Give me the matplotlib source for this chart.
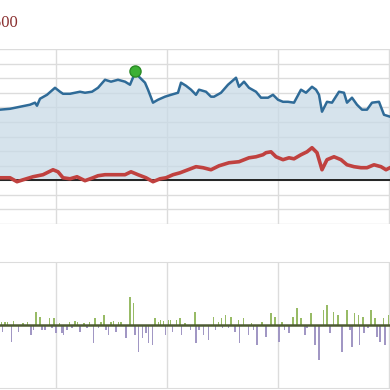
import matplotlib
matplotlib.use("Agg")
import matplotlib.pyplot as plt
import numpy as np

# --- data (x in chart units, gridlines every 111) ---
year_ticks = [56, 167, 278, 389]

blue_x = [0, 10, 20, 30, 35, 37, 40, 47, 55, 60, 63, 70, 80, 85, 92, 98,
          105, 111, 118, 125, 130, 135, 140, 145, 148, 153, 158, 165, 171,
          178, 181, 186, 191, 196, 199, 206, 211, 214, 221, 228, 236, 239,
          244, 249, 256, 261, 268, 273, 278, 283, 288, 294, 301, 306, 312,
          316, 319, 322, 327, 332, 339, 344, 347, 352, 357, 362, 367, 372,
          379, 384, 390]
blue_y = [48.4, 49.0, 50.4, 51.8, 53.2, 51.1, 55.9, 58.6, 63.4, 60.7, 59.3,
          59.3, 60.7, 60.0, 60.7, 63.4, 68.9, 67.6, 68.9, 67.6, 65.5, 73.7,
          70.3, 66.9, 62.1, 53.2, 55.2, 57.3, 58.6, 60.0, 66.9, 64.8, 62.1,
          58.6, 62.1, 60.7, 57.3, 57.3, 60.0, 65.5, 70.3, 64.1, 67.6, 63.4,
          60.7, 56.6, 56.6, 58.6, 55.2, 53.8, 53.8, 53.2, 62.1, 60.0, 64.1,
          62.1, 58.6, 47.0, 53.8, 53.2, 60.7, 60.0, 53.2, 56.6, 51.8, 48.4,
          48.4, 53.2, 53.8, 44.9, 43.6]

red_x = [0, 10, 17, 23, 33, 43, 53, 58, 63, 70, 77, 85, 93, 98, 105, 115,
         125, 131, 138, 146, 153, 160, 166, 173, 180, 188, 196, 203, 211,
         219, 229, 239, 249, 256, 263, 266, 271, 276, 283, 289, 294, 301,
         307, 312, 317, 322, 327, 334, 341, 347, 354, 361, 367, 374, 381,
         386, 390]
red_y = [1.7, 1.7, -1.0, 0.3, 2.4, 3.8, 7.2, 5.8, 1.7, 1.0, 2.4, -0.3, 1.7,
         3.1, 3.8, 3.8, 3.8, 5.8, 3.8, 1.7, -1.0, 1.0, 1.7, 3.8, 5.1, 7.2,
         9.3, 8.6, 7.2, 9.9, 12.0, 12.7, 15.4, 16.1, 17.5, 18.9, 19.5, 16.1,
         14.1, 15.4, 14.7, 17.5, 19.5, 22.3, 18.9, 7.2, 14.1, 16.1, 14.1,
         10.6, 9.3, 8.6, 8.6, 10.6, 9.3, 7.2, 8.6]

bar_x = [1.5, 2.5, 5, 7.3, 11.7, 13.3, 18.3, 22.7, 27.3, 31, 33.3, 36, 40,
         41.7, 45, 49.3, 51.7, 54, 56, 59.3, 61.7, 63.3, 66.7, 69.3, 71.7,
         75, 77.3, 80, 84, 86.7, 89.3, 93.3, 95, 98.3, 100.7, 104, 106,
         108.3, 110.7, 113.3, 116, 118.3, 120.7, 126, 130, 133.3, 135,
         138.3, 142.7, 146, 148.3, 152.3, 155, 158.3, 160.7, 163.3, 165.7,
         168.3, 170.7, 172.7, 176.7, 180, 181.7, 185, 190.7, 195, 196, 199,
         203.3, 208.3, 213.3, 215.7, 218.3, 221.7, 222.5, 225.7, 228.3, 231,
         235, 238.5, 239.5, 243.3, 248.3, 251.7, 253.3, 256.7, 261.7, 266,
         271, 275, 279, 281.7, 284.3, 289, 292.7, 296.7, 301, 305, 306.7,
         311, 315, 319, 323.3, 326.7, 330, 333.3, 337.7, 341.7, 346.7, 350,
         351.7, 354.3, 358.3, 359.3, 362.8, 363.8, 367.7, 371, 375, 376.7,
         380, 383.3, 385, 388.3]
bar_v = [3, -7, 3, 3, -17, 4, -7, 2, 3, -10, -5, 13, 8, -5, -5, 7, -3, 7,
         -8, 2, -8, -10, -5, 3, -3, 4, 3, -7, 2, -3, 3, -18, 7, -3, 3, 10,
         -5, -10, 3, 4, -7, 3, 3, -13, 28, 22, -10, -27, -13, -8, -18, -20,
         7, 3, 5, 4, -10, 5, 5, -7, 5, 7, -10, 2, -5, 13, -18, -5, -10, -15,
         8, -5, 3, 7, -3, 10, -3, 8, -7, 5, -18, 7, -10, 2, -5, -20, 3, -12,
         12, 8, -17, 3, -5, -8, 8, 17, 7, -10, -3, 12, -20, -35, 15, 20, -8,
         13, 10, -27, 15, -5, -22, 12, 10, -20, 8, -8, -3, 15, 7, -12, -17,
         7, -20, 10]

grid_col = "#dcdcdc"

fig = plt.figure(figsize=(3.9, 3.9), dpi=100)

# top panel
ax = fig.add_axes([0, 166 / 390, 1, 175 / 390])
ax.set_xlim(0, 390)
ax.set_ylim(-30, 90)
ax.set_yticks(np.arange(-30, 91, 10))
ax.set_xticks(year_ticks)
ax.grid(True, color=grid_col, linewidth=1)
ax.set_axisbelow(True)
ax.tick_params(length=0, labelleft=False, labelbottom=False)
for s in ax.spines.values():
    s.set_visible(False)

ax.fill_between(blue_x, blue_y, 0, color="#c9dae6", alpha=0.75, linewidth=0)
ax.axhline(0, color="#222222", linewidth=1.4)
ax.plot(red_x, red_y, color="#c0413f", linewidth=2.6)
ax.plot(blue_x, blue_y, color="#2f6b98", linewidth=1.8)
i = int(np.argmax(blue_y))
ax.plot(blue_x[i], blue_y[i] + 1.5, "o", color="#3cb034",
        markeredgecolor="#2a8a25", markersize=8)

# title is cropped at the left edge in the reference
fig.text(18 / 390, 1 - 27 / 390, "S&P 500", ha="right", va="baseline",
         fontsize=12, family="Liberation Serif", color="#8b3030")

# bottom panel
bx = fig.add_axes([0, 2 / 390, 1, 126 / 390])
bx.set_xlim(0, 390)
bx.set_ylim(-63, 63)
bx.set_xticks(year_ticks)
bx.set_yticks([])
bx.grid(True, axis="x", color=grid_col, linewidth=1)
bx.set_axisbelow(True)
bx.tick_params(length=0, labelleft=False, labelbottom=False)
for k in ["left", "right"]:
    bx.spines[k].set_visible(False)
for k in ["top", "bottom"]:
    bx.spines[k].set_color(grid_col)

cols = ["#98bb66" if v > 0 else "#a197c4" for v in bar_v]
bx.bar(bar_x, bar_v, width=1.6, color=cols, linewidth=0)
bx.axhline(0, color="#4d5a32", linewidth=1.8)

fig.savefig("out.png", dpi=100)
